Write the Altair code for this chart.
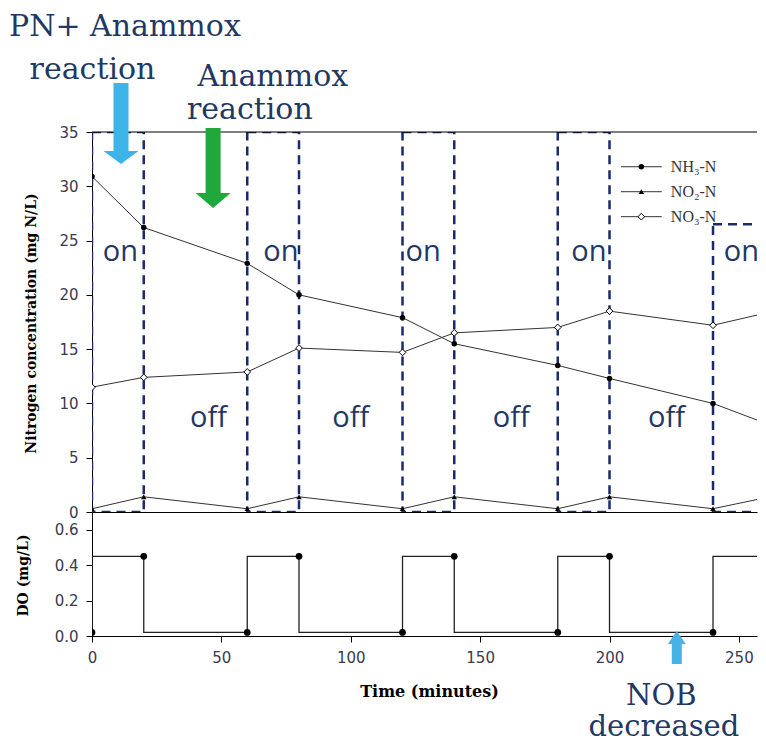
import altair as alt
import pandas as pd

# ---------------- data ----------------
time = [0, 20, 60, 80, 120, 140, 180, 200, 240, 260]
nh3 = [30.9, 26.2, 22.9, 20.0, 17.9, 15.5, 13.5, 12.3, 10.0, 8.2]
no2 = [0.3, 1.4, 0.3, 1.4, 0.3, 1.4, 0.3, 1.4, 0.3, 1.3]
no3 = [11.5, 12.4, 12.9, 15.1, 14.7, 16.5, 17.0, 18.5, 17.2, 18.3]
do_val = [0.02, 0.45, 0.02, 0.45, 0.02, 0.45, 0.02, 0.45, 0.02, 0.45]

box_start = [0, 60, 120, 180, 240]
box_end = [20, 80, 140, 200, 270]
box_top = [35, 35, 35, 35, 26.5]

on_x = [11, 73, 128, 192, 251]
on_y = 23.1
off_x = [45, 100, 162, 222]
off_y = 7.8

legend_labels = ["NH₃-N", "NO₂-N", "NO₃-N"]
legend_y = [31.8, 29.5, 27.2]

NAVY = "#1f3864"
BOXC = "#1b2a6b"
LINEC = "#333333"

W, H1, H2 = 665, 380, 124
xs = alt.Scale(domain=[0, 257], nice=False, zero=False)
ys1 = alt.Scale(domain=[0, 35], nice=False)
ys2 = alt.Scale(domain=[0, 0.7], nice=False)

ax_top_x = alt.Axis(labels=False, ticks=False, title=None)
ax_top_y = alt.Axis(values=list(range(0, 36, 5)), title="Nitrogen concentration (mg N/L)",
                    titleX=-61, titleY=191, titleAlign="center", titleBaseline="middle")
ax_bot_x = alt.Axis(values=[0, 50, 100, 150, 200, 250], title="Time (minutes)",
                    titleFontSize=16, titlePadding=18, titleX=337)
ax_bot_y = alt.Axis(values=[0, 0.2, 0.4, 0.6], format=".1f", title="DO (mg/L)",
                    titleX=-69, titleY=63, titleAlign="center", titleBaseline="middle")


def X1(f):
    return alt.X(f, type="quantitative", scale=xs, axis=ax_top_x)


def Y1(f):
    return alt.Y(f, type="quantitative", scale=ys1, axis=ax_top_y)


def X2p(f):
    return alt.X(f, type="quantitative", scale=xs, axis=ax_bot_x)


def Y2p(f):
    return alt.Y(f, type="quantitative", scale=ys2, axis=ax_bot_y)


# ---------------- top panel ----------------
boxes = pd.DataFrame({"x": box_start, "x2": box_end, "y": [0] * 5, "y2": box_top})
box_layer = alt.Chart(boxes).mark_rect(
    fillOpacity=0, stroke=BOXC, strokeWidth=2.5, strokeDash=[9, 6], clip=True
).encode(x=X1("x"), x2=alt.X2("x2"), y=Y1("y"), y2=alt.Y2("y2"))

frame = alt.Chart(pd.DataFrame({"x": [0], "x2": [257], "y": [35]})).mark_rule(
    color="black", strokeWidth=1).encode(x=X1("x"), x2=alt.X2("x2"), y=Y1("y"))

long = pd.DataFrame({
    "t": time * 3,
    "v": nh3 + no2 + no3,
    "s": ["NH3"] * 10 + ["NO2"] * 10 + ["NO3"] * 10,
})
lines = alt.Chart(long).mark_line(color=LINEC, strokeWidth=1, clip=True).encode(
    x=X1("t"), y=Y1("v"), detail="s:N")

df_nh3 = pd.DataFrame({"t": time, "v": nh3})
df_no2 = pd.DataFrame({"t": time, "v": no2})
df_no3 = pd.DataFrame({"t": time, "v": no3})
p_nh3 = alt.Chart(df_nh3).mark_point(shape="circle", filled=True, color="black", size=30,
                                      opacity=1, clip=True).encode(x=X1("t"), y=Y1("v"))
p_no2 = alt.Chart(df_no2).mark_point(shape="triangle-up", filled=True, color="black", size=30,
                                      opacity=1, clip=True).encode(x=X1("t"), y=Y1("v"))
p_no3 = alt.Chart(df_no3).mark_point(shape="diamond", filled=True, fill="white", stroke="black",
                                      strokeWidth=1, size=45, opacity=1, clip=True).encode(
    x=X1("t"), y=Y1("v"))

on_df = pd.DataFrame({"x": on_x, "y": [on_y] * len(on_x), "txt": ["on"] * len(on_x)})
off_df = pd.DataFrame({"x": off_x, "y": [off_y] * len(off_x), "txt": ["off"] * len(off_x)})
on_txt = alt.Chart(on_df).mark_text(font="Open Sans", fontSize=29, color=NAVY,
                                     baseline="alphabetic", clip=True).encode(
    x=X1("x"), y=Y1("y"), text="txt:N")
off_txt = alt.Chart(off_df).mark_text(font="Open Sans", fontSize=29, color=NAVY,
                                       baseline="alphabetic", clip=True).encode(
    x=X1("x"), y=Y1("y"), text="txt:N")

# legend
leg = pd.DataFrame({"x1": [204.4] * 3, "x2": [220.2] * 3, "xm": [212.3] * 3, "xt": [223.7] * 3,
                    "y": legend_y, "label": legend_labels})
leg_rule = alt.Chart(leg).mark_rule(color=LINEC, strokeWidth=1).encode(
    x=X1("x1"), x2=alt.X2("x2"), y=Y1("y"))
leg_p1 = alt.Chart(leg.iloc[[0]]).mark_point(shape="circle", filled=True, color="black", size=30,
                                            opacity=1).encode(x=X1("xm"), y=Y1("y"))
leg_p2 = alt.Chart(leg.iloc[[1]]).mark_point(shape="triangle-up", filled=True, color="black", size=30,
                                            opacity=1).encode(x=X1("xm"), y=Y1("y"))
leg_p3 = alt.Chart(leg.iloc[[2]]).mark_point(shape="diamond", filled=True, fill="white",
                                            stroke="black", strokeWidth=1, size=45,
                                            opacity=1).encode(x=X1("xm"), y=Y1("y"))
leg_txt = alt.Chart(leg).mark_text(font="Liberation Serif", fontSize=16, color="#333333",
                                    align="left", baseline="middle").encode(
    x=X1("xt"), y=Y1("y"), text="label:N")

# annotations above the plot
ann = pd.DataFrame({
    "x": [-32.1, 0.2, 69.9, 61.0],
    "y": [43.84, 39.88, 39.24, 36.2],
    "txt": ["PN+ Anammox", "reaction", "Anammox", "reaction"],
})
ann_left = alt.Chart(ann.iloc[[0]]).mark_text(font="DejaVu Serif", fontSize=30, color=NAVY,
                                             align="left", baseline="alphabetic").encode(
    x=X1("x"), y=Y1("y"), text="txt:N")
ann_center = alt.Chart(ann.iloc[1:]).mark_text(font="DejaVu Serif", fontSize=30, color=NAVY,
                                              align="center", baseline="alphabetic").encode(
    x=X1("x"), y=Y1("y"), text="txt:N")

blue_shaft = alt.Chart(pd.DataFrame({"x": [11.2], "y": [39.51], "y2": [33.25]})).mark_rule(
    color="#3cb4e7", strokeWidth=15).encode(x=X1("x"), y=Y1("y"), y2=alt.Y2("y2"))
blue_head = alt.Chart(pd.DataFrame({"x": [11.2], "y": [32.65]})).mark_point(
    shape="M-1,-0.37L1,-0.37L0,0.37Z", filled=True, color="#3cb4e7", size=1225, opacity=1
).encode(x=X1("x"), y=Y1("y"))
green_shaft = alt.Chart(pd.DataFrame({"x": [46.8], "y": [35.37], "y2": [29.3]})).mark_rule(
    color="#1fa83b", strokeWidth=15).encode(x=X1("x"), y=Y1("y"), y2=alt.Y2("y2"))
green_head = alt.Chart(pd.DataFrame({"x": [46.8], "y": [28.69]})).mark_point(
    shape="M-1,-0.43L1,-0.43L0,0.43Z", filled=True, color="#1fa83b", size=1225, opacity=1
).encode(x=X1("x"), y=Y1("y"))

top = alt.layer(
    box_layer, frame, lines, p_nh3, p_no2, p_no3, on_txt, off_txt,
    leg_rule, leg_p1, leg_p2, leg_p3, leg_txt,
    ann_left, ann_center, blue_shaft, blue_head, green_shaft, green_head,
).properties(width=W, height=H1)

# ---------------- bottom panel (DO) ----------------
do_df = pd.DataFrame({"t": time, "v": do_val})
do_line = alt.Chart(do_df).mark_line(color="#222222", strokeWidth=1.3, interpolate="step-before",
                                     clip=True).encode(x=X2p("t"), y=Y2p("v"))
do_pts = alt.Chart(do_df).mark_point(shape="circle", filled=True, color="black", size=45,
                                     opacity=1, clip=True).encode(x=X2p("t"), y=Y2p("v"))

nob_shaft = alt.Chart(pd.DataFrame({"x": [226], "y": [-0.045], "y2": [-0.158]})).mark_rule(
    color="#45b3e6", strokeWidth=10).encode(x=X2p("x"), y=Y2p("y"), y2=alt.Y2("y2"))
nob_head = alt.Chart(pd.DataFrame({"x": [226], "y": [-0.0085]})).mark_point(
    shape="M-1,0.72L1,0.72L0,-0.72Z", filled=True, color="#45b3e6", size=324, opacity=1
).encode(x=X2p("x"), y=Y2p("y"))
nob_txt = alt.Chart(pd.DataFrame({"x": [220, 221], "y": [-0.39, -0.565],
                                  "txt": ["NOB", "decreased"]})).mark_text(
    font="DejaVu Serif", fontSize=29, color=NAVY, align="center", baseline="alphabetic"
).encode(x=X2p("x"), y=Y2p("y"), text="txt:N")

bottom = alt.layer(do_line, do_pts, nob_shaft, nob_head, nob_txt).properties(width=W, height=H2)

chart = alt.vconcat(top, bottom, spacing=0, bounds="flush").properties(
    padding={"top": 4, "left": 0, "right": 0, "bottom": 0}
).configure_view(stroke=None).configure_axis(
    grid=False, domainColor="black", domainWidth=1, tickColor="black", tickSize=6,
    labelFont="DejaVu Sans", labelFontSize=15, labelColor="#3a3a50", labelPadding=8,
    labelFlush=False, labelOverlap=False,
    titleFont="DejaVu Serif", titleFontWeight="bold", titleFontSize=14, titleColor="black",
)

chart.save("out.html", embed_options={"renderer": "svg", "actions": False})
